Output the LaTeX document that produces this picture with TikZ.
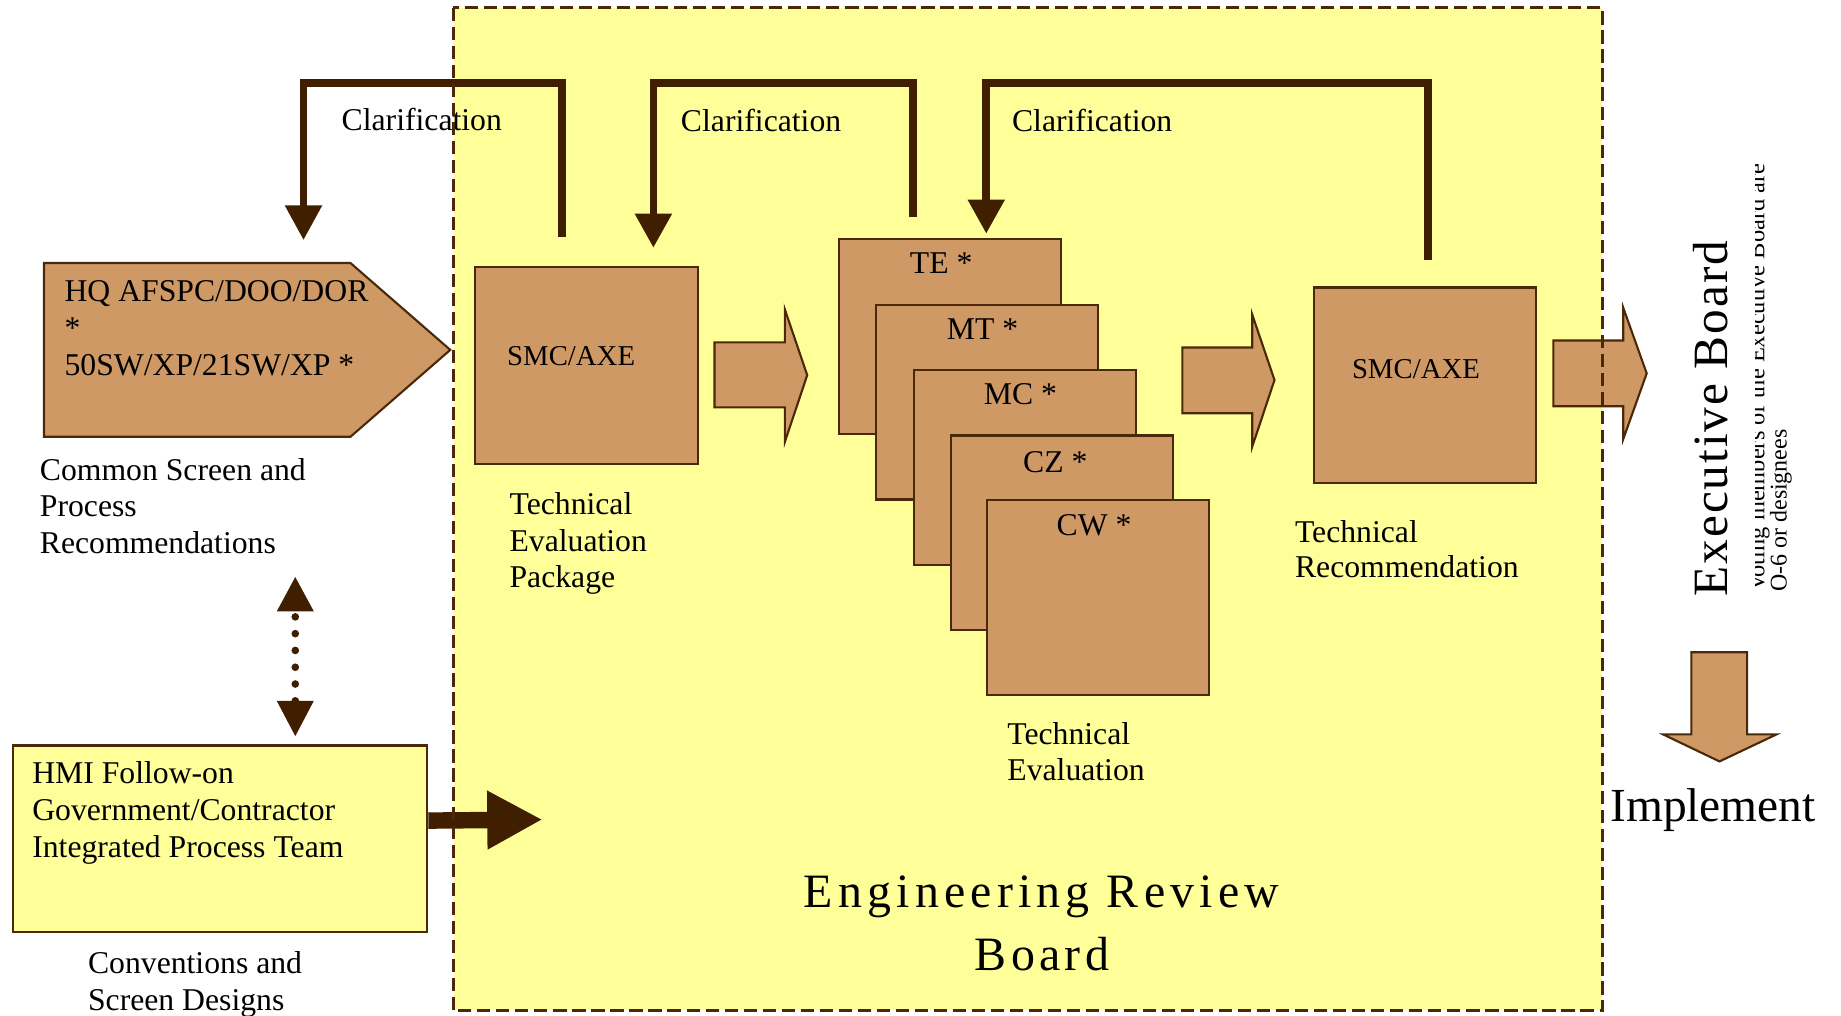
\documentclass[tikz,border=0pt]{standalone}
\usepackage{fontspec}
\setmainfont{Liberation Serif}
\usetikzlibrary{arrows.meta}
\definecolor{tanfill}{HTML}{CF9966}
\definecolor{darkbrown}{HTML}{3F1F00}
\definecolor{lightyellow}{HTML}{FFFF99}
\definecolor{edgebrown}{HTML}{4A2808}
\newcommand\stacklines[1]{\vtop{#1}}
\begin{document}
\begin{tikzpicture}[x=0.5pt,y=-0.5pt,
  txt/.style={inner sep=0pt, outer sep=0pt, anchor=base west, text=black, font=\fontsize{13.5pt}{15.5pt}\selectfont},
  smctxt/.style={txt, font=\fontsize{12.25pt}{15pt}\selectfont},
  tanbox/.style={draw=edgebrown, fill=tanfill, line width=0.9pt, anchor=north west, inner sep=0pt, minimum width=94.5pt, minimum height=83pt},
  clar/.style={draw=darkbrown, line width=3.25pt, line join=miter, -{Triangle[length=14.75pt,width=15pt]}},
  blockarrow/.style={draw=edgebrown, fill=tanfill, line width=0.9pt, line join=miter},
  rottxt/.style={inner sep=0pt, outer sep=0pt, rotate=90, anchor=base west, text=black},
]
\useasboundingbox (0,0) rectangle (1568,864.5);
% Engineering Review Board area
\node[fill=lightyellow, draw=none, inner sep=0pt, anchor=north west, minimum width=489pt, minimum height=426.75pt] (erbbox) at (386,6.5) {};

% pentagon
\draw[blockarrow] (37.5,224) -- (298.5,224) -- (383.5,298) -- (298.5,372) -- (37.5,372) -- cycle;
\node[txt, font=\fontsize{13.5pt}{15.75pt}\selectfont] (hqt) at (55,257) {\stacklines{\hbox{HQ AFSPC/DOO/DOR}\hbox{*}\hbox{50SW/XP/21SW/XP *}}};

% boxes
\node[tanbox, minimum width=94.75pt, minimum height=83.7pt] (smc1) at (404,226.6) {};
\node[smctxt] (smc1t) at (432,311.5) {SMC/AXE};

\node[tanbox] (te) at (714,203) {};
\node[tanbox] (mt) at (745.5,258.5) {};
\node[tanbox] (mc) at (777.5,314) {};
\node[tanbox] (cz) at (809,370) {};
\node[tanbox] (cw) at (840,425) {};
\node[txt] (tet) at (775,233) {TE *};
\node[txt] (mtt) at (806.5,289) {MT *};
\node[txt] (mct) at (838,344.5) {MC *};
\node[txt] (czt) at (871.5,402) {CZ *};
\node[txt] (cwt) at (900,456) {CW *};

\node[tanbox, minimum height=83.3pt] (smc2) at (1118.5,244) {};
\node[smctxt] (smc2t) at (1151.5,322) {SMC/AXE};

\node[draw=edgebrown, fill=lightyellow, line width=0.9pt, anchor=north west, inner sep=0pt, minimum width=176.5pt, minimum height=79.3pt] (hmi) at (10,634) {};

% block arrows
\draw[blockarrow] (608.5,291.6) -- (668.5,291.6) -- (668.5,263.6) -- (687.5,319.5) -- (668.5,376.3) -- (668.5,347) -- (608.5,347) -- cycle;
\draw[blockarrow] (1007,296) -- (1066.5,296) -- (1066.5,267.8) -- (1085.5,323.7) -- (1066.5,380.5) -- (1066.5,352) -- (1007,352) -- cycle;
\draw[blockarrow] (1323,290) -- (1382.5,290) -- (1382.5,262) -- (1402.5,318) -- (1382.5,374) -- (1382.5,346) -- (1323,346) -- cycle;
\draw[blockarrow] (1440.5,555.5) -- (1488,555.5) -- (1488,625.5) -- (1513,625.5) -- (1464.5,648.5) -- (1416.5,625.5) -- (1440.5,625.5) -- cycle;

% clarification arrows
\coordinate (c1s) at (478.5,202);
\coordinate (c1e) at (258.5,204.5);
\coordinate (c2s) at (777.5,185);
\coordinate (c2e) at (556.5,211);
\coordinate (c3s) at (1216,221.5);
\coordinate (c3e) at (840,199);
\draw[clar] (c1s) -- (c1s |- 0,70.5) -- (c1e |- 0,70.5) -- (c1e);
\draw[clar, -{Triangle[length=14.5pt,width=15pt]}] (c2s) -- (c2s |- 0,70.5) -- (c2e |- 0,70.5) -- (c2e);
\draw[clar, -{Triangle[length=14.5pt,width=15pt]}] (c3s) -- (c3s |- 0,70.5) -- (c3e |- 0,70.5) -- (c3e);
\node[txt] (clar1) at (291,111) {Clarification};
\node[txt] (clar2) at (580,112) {Clarification};
\node[txt] (clar3) at (862,112) {Clarification};

% dotted double arrow
\coordinate (dtop) at (251.5,491);
\coordinate (dbot) at (251.5,627.4);
\draw[darkbrown, line width=3.25pt, line cap=round, dash pattern=on 0pt off 7.15pt, dash phase=3.95pt, {Triangle[length=14.8pt,width=14.75pt]}-{Triangle[length=15.2pt,width=14.75pt]}] (dtop) -- (dbot);

% HMI arrow
\coordinate (hmiin) at (462,698);
\draw[darkbrown, line width=7pt, -{Triangle[length=23.5pt,width=23.5pt]}] ([yshift=7.65pt]hmi.east) -- (hmiin);

% texts
\node[txt, font=\fontsize{13.5pt}{15.65pt}\selectfont] (cst) at (34,409) {\stacklines{\hbox{Common Screen and}\hbox{Process}\hbox{Recommendations}}};
\node[txt, font=\fontsize{13.5pt}{15.4pt}\selectfont] (tep) at (434,438.5) {\stacklines{\hbox{Technical}\hbox{Evaluation}\hbox{Package}}};
\node[txt] (tev) at (858,634) {\stacklines{\hbox{Technical}\hbox{Evaluation}}};
\node[txt, font=\fontsize{13.5pt}{15.1pt}\selectfont] (trec) at (1103,461.8) {\stacklines{\hbox{Technical}\hbox{Recommendation}}};
\node[txt, font=\fontsize{13.5pt}{15.6pt}\selectfont] (hmit) at (27.5,667.7) {\stacklines{\hbox{HMI Follow-on}\hbox{Government/Contractor}\hbox{Integrated Process Team}}};
\node[txt] (conv) at (75,829.5) {\stacklines{\hbox{Conventions and}\hbox{Screen Designs}}};

\node[inner sep=0pt, anchor=base, font=\fontsize{20.4pt}{27pt}\selectfont\addfontfeature{LetterSpace=10.8}] (erb1) at (887,772.8) {Engineering Review};
\node[inner sep=0pt, anchor=base, font=\fontsize{20.4pt}{27pt}\selectfont\addfontfeature{LetterSpace=9}] (erb2) at (887.5,826.8) {Board};

\node[txt, font=\fontsize{20.2pt}{24pt}\selectfont] (impl) at (1371.5,700) {Implement};

\node[rottxt, font=\fontsize{21pt}{25pt}\selectfont\addfontfeature{LetterSpace=4}] (eb) at (1471,508) {Executive Board};
\begin{scope}
\clip (1495,132) rectangle (1568,864.5);
\node[rottxt, font=\fontsize{10.4pt}{12pt}\selectfont] (vote1) at (1502.7,504) {Voting members of the Executive Board are};
\end{scope}
\node[rottxt, font=\fontsize{10.2pt}{12pt}\selectfont] (vote2) at (1521.7,504) {O-6 or designees};

% dashed border
\draw[edgebrown, line width=1.2pt, dash pattern=on 5.6pt off 2.5pt] (erbbox.north west) rectangle (erbbox.south east);
\end{tikzpicture}
\end{document}
